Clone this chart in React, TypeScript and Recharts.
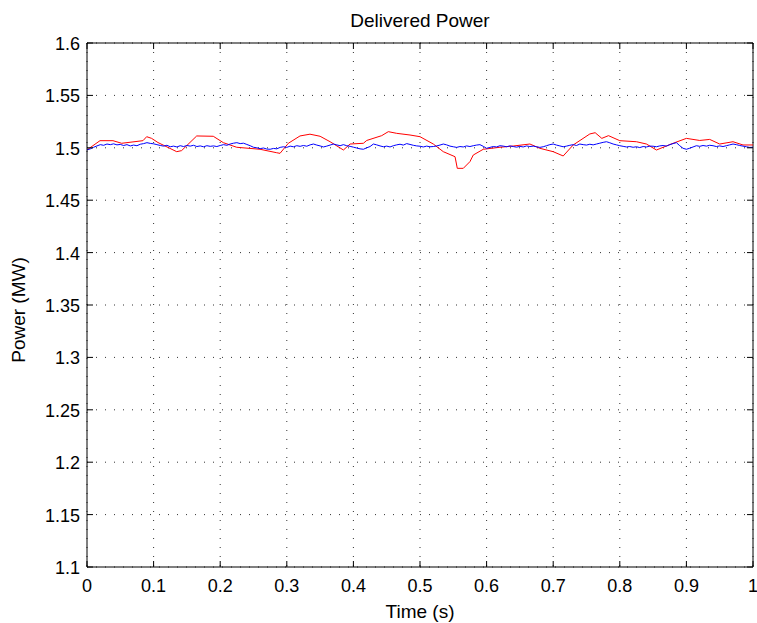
import { LineChart, Line, XAxis, YAxis, CartesianGrid, ReferenceLine } from "recharts";

// plot box in page pixels (used by the custom ticks for the inward tick marks)
const PLOT_TOP = 43;
const PLOT_BOTTOM = 567;
const PLOT_LEFT = 87;
const PLOT_RIGHT = 753;
const FONT = "'Liberation Sans', Arial, Helvetica, sans-serif";

const xTicks = [0, 0.1, 0.2, 0.3, 0.4, 0.5, 0.6, 0.7, 0.8, 0.9, 1];
const yTicks = [1.1, 1.15, 1.2, 1.25, 1.3, 1.35, 1.4, 1.45, 1.5, 1.55, 1.6];

// red trace (time s, power MW)
const redTime = [
  0, 0.0195, 0.039, 0.052, 0.084, 0.0896, 0.097, 0.1066, 0.1347, 0.142,
  0.1647, 0.1896, 0.2047, 0.2248, 0.2598, 0.2848, 0.2898, 0.3023, 0.3198, 0.3348,
  0.35, 0.365, 0.385, 0.395, 0.415, 0.42, 0.4425, 0.4524, 0.465, 0.485,
  0.5, 0.52, 0.535, 0.5526, 0.556, 0.565, 0.575, 0.58, 0.595, 0.62,
  0.64, 0.665, 0.68, 0.7, 0.715, 0.73, 0.755, 0.763, 0.773, 0.783,
  0.8, 0.825, 0.84, 0.855, 0.88, 0.9, 0.92, 0.935, 0.95, 0.97,
  0.985, 1.0,
];
const redPower = [
  1.498, 1.5068, 1.5068, 1.5043, 1.5068, 1.5106, 1.509, 1.505, 1.4963, 1.4973,
  1.5113, 1.511, 1.5049, 1.5005, 1.4986, 1.4953, 1.4947, 1.5043, 1.5113, 1.513,
  1.511, 1.5058, 1.4979, 1.5036, 1.5043, 1.507, 1.5116, 1.5154, 1.5138, 1.5122,
  1.5106, 1.5036, 1.4963, 1.4915, 1.4804, 1.4804, 1.4868, 1.4931, 1.4986, 1.5005,
  1.5017, 1.5036, 1.4995, 1.4963, 1.4922, 1.5027, 1.5132, 1.5144, 1.509, 1.5116,
  1.5068, 1.5058, 1.5036, 1.4979, 1.5043, 1.509, 1.507, 1.508, 1.5036, 1.5058,
  1.5027, 1.5027,
];

// blue trace, sampled every 5 ms
const blueStep = 0.005;
const bluePower = [
  1.498, 1.499, 1.5005, 1.5018, 1.503, 1.5024, 1.5036, 1.503, 1.5038, 1.5028,
  1.5032, 1.5022, 1.503, 1.5018, 1.5026, 1.502, 1.5034, 1.504, 1.5049, 1.5042,
  1.5038, 1.503, 1.5022, 1.5016, 1.5024, 1.501, 1.5016, 1.5008, 1.502, 1.5012,
  1.5022, 1.5016, 1.5024, 1.5012, 1.5018, 1.501, 1.502, 1.5014, 1.5018, 1.5012,
  1.5022, 1.503, 1.5024, 1.5036, 1.5044, 1.5049, 1.504, 1.5044, 1.5032, 1.502,
  1.5005, 1.5, 1.4992, 1.4998, 1.4988, 1.4986, 1.4994, 1.499, 1.5004, 1.501,
  1.5004, 1.5016, 1.501, 1.502, 1.5014, 1.5022, 1.5015, 1.5028, 1.5036, 1.5026,
  1.5018, 1.5008, 1.5016, 1.5026, 1.5036, 1.5028, 1.502, 1.503, 1.502, 1.5014,
  1.5006, 1.4998, 1.499, 1.4986, 1.5, 1.5012, 1.5036, 1.5028, 1.5018, 1.501,
  1.5016, 1.5008, 1.502, 1.5028, 1.5034, 1.5026, 1.504, 1.5032, 1.5024, 1.5018,
  1.5015, 1.5008, 1.5016, 1.501, 1.5012, 1.5018, 1.5026, 1.5036, 1.5028, 1.5016,
  1.501, 1.5004, 1.5012, 1.5008, 1.5018, 1.5012, 1.502, 1.5026, 1.503, 1.5014,
  1.4995, 1.5004, 1.5012, 1.5008, 1.502, 1.5016, 1.501, 1.5018, 1.5012, 1.5006,
  1.5014, 1.5008, 1.5018, 1.5012, 1.5016, 1.501, 1.5004, 1.501, 1.502, 1.503,
  1.5036, 1.5026, 1.5018, 1.501, 1.5016, 1.5024, 1.503, 1.5022, 1.5036, 1.503,
  1.5026, 1.5034, 1.5028, 1.5036, 1.5044, 1.5052, 1.5058, 1.5048, 1.5036, 1.5028,
  1.502, 1.5014, 1.5008, 1.5012, 1.5005, 1.501, 1.5002, 1.5012, 1.5008, 1.5016,
  1.5015, 1.501, 1.5018, 1.5022, 1.5016, 1.503, 1.504, 1.5049, 1.502, 1.4995,
  1.4986, 1.4996, 1.5008, 1.502, 1.5014, 1.5022, 1.5016, 1.5024, 1.502, 1.5012,
  1.5018, 1.5012, 1.502, 1.5028, 1.5036, 1.503, 1.5022, 1.5016, 1.501, 1.5004,
  1.5005,
];

const redData = redTime.map((t, i) => ({ t, p: redPower[i] }));
const blueData = bluePower.map((p, i) => ({ t: +(i * blueStep).toFixed(3), p }));

const XTick = (props: any) => {
  const { x, payload } = props;
  return (
    <g>
      <line x1={x} y1={PLOT_BOTTOM} x2={x} y2={PLOT_BOTTOM - 6} stroke="#000" />
      <line x1={x} y1={PLOT_TOP} x2={x} y2={PLOT_TOP + 6} stroke="#000" />
      <text x={x} y={592} textAnchor="middle" fontSize={18} fontFamily={FONT} fill="#000">
        {String(payload.value)}
      </text>
    </g>
  );
};

const YTick = (props: any) => {
  const { y, payload } = props;
  return (
    <g>
      <line x1={PLOT_LEFT} y1={y} x2={PLOT_LEFT + 6} y2={y} stroke="#000" />
      <line x1={PLOT_RIGHT} y1={y} x2={PLOT_RIGHT - 6} y2={y} stroke="#000" />
      <text x={80} y={y + 7} textAnchor="end" fontSize={18} fontFamily={FONT} fill="#000">
        {String(payload.value)}
      </text>
    </g>
  );
};

export default function App() {
  return (
    <div style={{ position: "absolute", left: 0, top: 0, width: 757, height: 623, background: "#fff" }}>
      <LineChart
        width={757}
        height={623}
        margin={{ top: PLOT_TOP, right: 757 - PLOT_RIGHT, bottom: 0, left: 0 }}
      >
        <CartesianGrid stroke="#333" strokeDasharray="1 8" />
        <XAxis
          type="number"
          dataKey="t"
          domain={[0, 1]}
          ticks={xTicks}
          height={623 - PLOT_BOTTOM}
          tickLine={false}
          tick={<XTick />}
          stroke="#000"
          allowDataOverflow
        />
        <YAxis
          type="number"
          dataKey="p"
          domain={[1.1, 1.6]}
          ticks={yTicks}
          width={PLOT_LEFT}
          tickLine={false}
          tick={<YTick />}
          stroke="#000"
          allowDataOverflow
        />
        <ReferenceLine y={1.6} stroke="#000" />
        <ReferenceLine x={1} stroke="#000" />
        <Line
          data={redData}
          dataKey="p"
          type="linear"
          stroke="#ff0000"
          strokeWidth={1}
          dot={false}
          isAnimationActive={false}
        />
        <Line
          data={blueData}
          dataKey="p"
          type="linear"
          stroke="#0000ff"
          strokeWidth={1}
          dot={false}
          isAnimationActive={false}
        />
        <text x={420} y={27} textAnchor="middle" fontSize={19} fontFamily={FONT} fill="#000">
          Delivered Power
        </text>
        <text x={420} y={618} textAnchor="middle" fontSize={19} fontFamily={FONT} fill="#000">
          Time (s)
        </text>
        <text
          x={25}
          y={310}
          textAnchor="middle"
          fontSize={19}
          fontFamily={FONT}
          fill="#000"
          transform="rotate(-90 25 310)"
        >
          Power (MW)
        </text>
      </LineChart>
    </div>
  );
}
